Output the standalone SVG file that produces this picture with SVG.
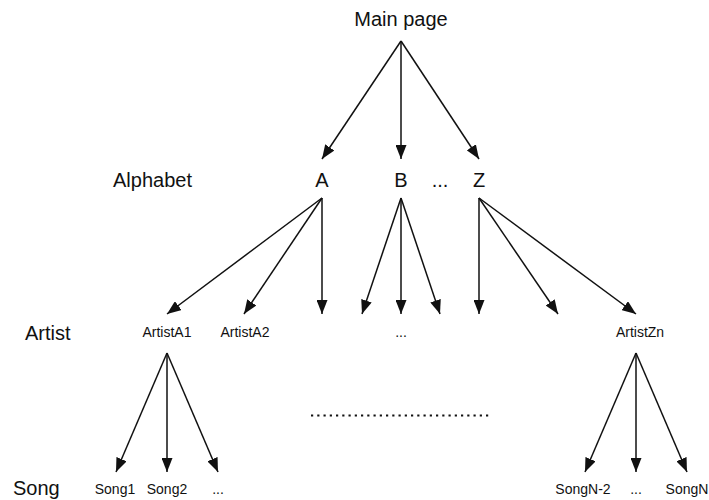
<svg xmlns="http://www.w3.org/2000/svg" width="709" height="500" viewBox="0 0 709 500">
  <style>
    text { font-family: "Liberation Sans", Arial, sans-serif; fill: #111; }
    .lvl { font-size: 20px; }
    .big { font-size: 20px; text-anchor: middle; }
    .small { font-size: 14px; text-anchor: middle; }
    .edge { stroke: #111; stroke-width: 1.5; fill: none; marker-end: url(#arrow); }
  </style>
  <defs>
    <marker id="arrow" markerUnits="userSpaceOnUse" markerWidth="15" markerHeight="11" viewBox="0 0 15 11" refX="14" refY="5.5" orient="auto">
      <path d="M0,0 L14,5.5 L0,11 Z" fill="#111"/>
    </marker>
  </defs>
  <rect width="709" height="500" fill="#fff"/>

  <!-- level labels -->
  <g id="level-labels">
    <text class="lvl" x="113" y="187">Alphabet</text>
    <text class="lvl" x="25" y="340">Artist</text>
    <text class="lvl" x="13" y="495">Song</text>
  </g>

  <!-- nodes -->
  <g id="main-page"><text class="big" x="401" y="26">Main page</text></g>
  <g id="letter-a"><text class="big" x="322" y="187">A</text></g>
  <g id="letter-b"><text class="big" x="401" y="187">B</text></g>
  <g id="letter-dots"><text class="big" x="440" y="187">...</text></g>
  <g id="letter-z"><text class="big" x="479" y="187">Z</text></g>

  <g id="artist-a1"><text class="small" x="167" y="337">ArtistA1</text></g>
  <g id="artist-a2"><text class="small" x="245" y="337">ArtistA2</text></g>
  <g id="artist-dots"><text class="small" x="401" y="337">...</text></g>
  <g id="artist-zn"><text class="small" x="640" y="337">ArtistZn</text></g>

  <g id="song-1"><text class="small" x="115" y="494">Song1</text></g>
  <g id="song-2"><text class="small" x="167" y="494">Song2</text></g>
  <g id="song-dots-a"><text class="small" x="218" y="494">...</text></g>
  <g id="song-n2"><text class="small" x="583" y="494">SongN-2</text></g>
  <g id="song-dots-z"><text class="small" x="636" y="494">...</text></g>
  <g id="song-n"><text class="small" x="687" y="494">SongN</text></g>

  <!-- elision between subtrees -->
  <line x1="311" y1="415.5" x2="492" y2="415.5" stroke="#111" stroke-width="2.2" stroke-dasharray="2.2 4.05"/>

  <!-- connectors -->
  <g id="connectors">
    <line class="edge" x1="401" y1="41" x2="322" y2="159"/>
    <line class="edge" x1="401" y1="41" x2="401" y2="159"/>
    <line class="edge" x1="401" y1="41" x2="479" y2="159"/>

    <line class="edge" x1="322" y1="198" x2="167" y2="314"/>
    <line class="edge" x1="322" y1="198" x2="244" y2="314"/>
    <line class="edge" x1="322" y1="198" x2="322" y2="314"/>

    <line class="edge" x1="401" y1="198" x2="362" y2="314"/>
    <line class="edge" x1="401" y1="198" x2="401" y2="314"/>
    <line class="edge" x1="401" y1="198" x2="440" y2="314"/>

    <line class="edge" x1="479" y1="198" x2="479" y2="314"/>
    <line class="edge" x1="479" y1="198" x2="558" y2="314"/>
    <line class="edge" x1="479" y1="198" x2="636" y2="314"/>

    <line class="edge" x1="167" y1="353" x2="116" y2="472"/>
    <line class="edge" x1="167" y1="353" x2="167" y2="472"/>
    <line class="edge" x1="167" y1="353" x2="218" y2="472"/>

    <line class="edge" x1="636" y1="353" x2="585" y2="472"/>
    <line class="edge" x1="636" y1="353" x2="636" y2="472"/>
    <line class="edge" x1="636" y1="353" x2="687" y2="472"/>
  </g>
</svg>
